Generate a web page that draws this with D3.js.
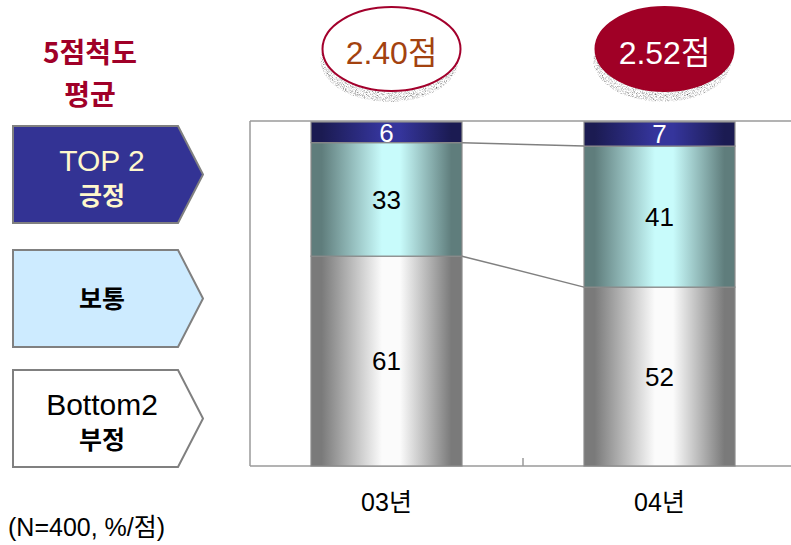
<!DOCTYPE html>
<html>
<head>
<meta charset="utf-8">
<script src="https://cdn.jsdelivr.net/npm/d3@7"></script>
<style>
  html, body { margin: 0; padding: 0; background: #fff; }
  svg { display: block; }
  text { font-family: "Liberation Sans", Arial, "Noto Sans CJK KR", sans-serif; }
  .ko { font-family: "Noto Sans CJK KR", "Liberation Sans", sans-serif; }
</style>
</head>
<body>
<svg id="chart" width="791" height="545"></svg>
<script>
// Survey results by year (5-point scale)
const years = ["03년", "04년"];
const top2 = [6, 7];          // TOP 2 긍정
const neutral = [33, 41];     // 보통
const bottom2 = [61, 52];     // Bottom2 부정
const means = [2.40, 2.52];   // 5점척도 평균
const meanSuffix = "점";
const legendLines = [["TOP 2", "긍정"], ["보통"], ["Bottom2", "부정"]];
const note = "(N=400, %/점)";

const W = 791, H = 545;
const svg = d3.select("#chart");
const defs = svg.append("defs");

// Horizontal cylinder-style gradients for each segment
function cylGradient(id, dark, light) {
  const g = defs.append("linearGradient").attr("id", id)
    .attr("x1", "0%").attr("x2", "100%").attr("y1", "0%").attr("y2", "0%");
  [[0, dark], [0.07, dark], [0.47, light], [0.59, light], [0.93, dark], [1, dark]]
    .forEach(([o, c]) => g.append("stop").attr("offset", o).attr("stop-color", c));
}
cylGradient("gTop", "#1b1b52", "#35359c");
cylGradient("gMid", "#5f7d7c", "#c8fbfb");
cylGradient("gBot", "#7a7a7a", "#fbfbfb");

// Grainy grey texture for the coin edges
const f = defs.append("filter").attr("id", "grain")
  .attr("x", "0%").attr("y", "0%").attr("width", "100%").attr("height", "100%");
f.append("feTurbulence").attr("type", "fractalNoise").attr("baseFrequency", 1.1)
  .attr("numOctaves", 2).attr("seed", 7).attr("result", "noise");
f.append("feColorMatrix").attr("in", "noise").attr("type", "matrix")
  .attr("values", "1.9 0 0 0 -0.12  1.9 0 0 0 -0.12  1.9 0 0 0 -0.12  0 0 0 0 1")
  .attr("result", "grey");
f.append("feComposite").attr("in", "grey").attr("in2", "SourceAlpha").attr("operator", "in");

// Scales
const x = d3.scaleBand().domain(years).range([250, 796])
  .paddingInner(0.447).paddingOuter(0.2235);
const y = d3.scaleLinear().domain([0, 100]).range([466, 122]);

// Plot frame
const axisColor = "#9a9a9a";
svg.append("line").attr("x1", 250).attr("x2", W + 10).attr("y1", 121).attr("y2", 121)
  .attr("stroke", axisColor).attr("stroke-width", 1.5);
svg.append("line").attr("x1", 250).attr("x2", 250).attr("y1", 121).attr("y2", y(0))
  .attr("stroke", axisColor).attr("stroke-width", 1.5);
svg.append("line").attr("x1", 250).attr("x2", W + 10).attr("y1", y(0)).attr("y2", y(0))
  .attr("stroke", axisColor).attr("stroke-width", 1.5);
// inner tick between categories
years.slice(1).forEach(d => {
  const bx = x(d) - x.step() * x.paddingInner() / 2;
  svg.append("line").attr("x1", bx).attr("x2", bx).attr("y1", y(0)).attr("y2", y(0) - 8)
    .attr("stroke", axisColor).attr("stroke-width", 1.5);
});

// Stacked data
const rows = years.map((yr, i) => ({ yr, bottom2: bottom2[i], neutral: neutral[i], top2: top2[i] }));
const keys = ["bottom2", "neutral", "top2"];
const fills = { bottom2: "url(#gBot)", neutral: "url(#gMid)", top2: "url(#gTop)" };
const labelColor = { bottom2: "#000", neutral: "#000", top2: "#fff" };
const stacked = d3.stack().keys(keys)(rows);

// Connector lines between stacked boundaries
const boundaries = [stacked[0], stacked[1]];
boundaries.forEach(layer => {
  for (let i = 0; i < years.length - 1; i++) {
    svg.append("line")
      .attr("x1", x(years[i]) + x.bandwidth()).attr("y1", y(layer[i][1]))
      .attr("x2", x(years[i + 1])).attr("y2", y(layer[i + 1][1]))
      .attr("stroke", "#808080").attr("stroke-width", 1.5);
  }
});

// Bars
stacked.forEach(layer => {
  const g = svg.append("g");
  g.selectAll("rect").data(layer).join("rect")
    .attr("x", d => x(d.data.yr))
    .attr("y", d => y(d[1]))
    .attr("width", x.bandwidth())
    .attr("height", d => y(d[0]) - y(d[1]))
    .attr("fill", fills[layer.key])
    .attr("stroke", "#8a8a8a").attr("stroke-width", 1.2);
  g.selectAll("text").data(layer).join("text")
    .attr("x", d => x(d.data.yr) + x.bandwidth() / 2)
    .attr("y", d => (y(d[0]) + y(d[1])) / 2)
    .attr("dy", "0.36em")
    .attr("text-anchor", "middle")
    .attr("font-size", 26)
    .attr("fill", labelColor[layer.key])
    .text(d => d.data[layer.key]);
});

// Category labels
svg.selectAll(".cat").data(years).join("text")
  .attr("class", "cat")
  .attr("x", d => x(d) + x.bandwidth() / 2)
  .attr("y", 511)
  .attr("text-anchor", "middle")
  .attr("font-size", 25)
  .attr("fill", "#000")
  .text(d => d);

// Mean score coins
const coinStyles = [
  { fill: "#ffffff", stroke: "#a3002c", text: "#a3420f" },
  { fill: "#a00026", stroke: "#a00026", text: "#ffffff" }
];
years.forEach((yr, i) => {
  const cx = x(yr) + x.bandwidth() / 2 + 5, cy = 49, rx = 69, ry = 42;
  svg.append("ellipse").attr("cx", cx - 2).attr("cy", cy + 11).attr("rx", rx).attr("ry", ry)
    .attr("fill", "#999").attr("filter", "url(#grain)");
  svg.append("ellipse").attr("cx", cx).attr("cy", cy).attr("rx", rx).attr("ry", ry)
    .attr("fill", coinStyles[i].fill).attr("stroke", coinStyles[i].stroke).attr("stroke-width", 2);
  svg.append("text").attr("x", cx).attr("y", cy + 3).attr("dy", "0.36em")
    .attr("text-anchor", "middle").attr("font-size", 32)
    .attr("fill", coinStyles[i].text)
    .text(means[i].toFixed(2) + meanSuffix);
});

// Title
const title = svg.append("text").attr("class", "ko").attr("text-anchor", "middle")
  .attr("fill", "#a00028").attr("font-weight", 700).attr("font-size", 28);
title.append("tspan").attr("x", 90).attr("y", 63).text("5점척도");
title.append("tspan").attr("x", 90).attr("y", 105).text("평균");

// Legend arrows
const legendBoxes = [
  { y0: 126, y1: 223, fill: "#333394", text: "#fff8cc" },
  { y0: 250, y1: 347, fill: "#cdebff", text: "#000" },
  { y0: 370, y1: 467, fill: "#ffffff", text: "#000" }
];
legendBoxes.forEach((b, i) => {
  const xl = 13, xn = 178, xt = 203, ym = (b.y0 + b.y1) / 2;
  svg.append("path")
    .attr("d", `M${xl},${b.y0}H${xn}L${xt},${ym}L${xn},${b.y1}H${xl}Z`)
    .attr("fill", b.fill).attr("stroke", "#808080").attr("stroke-width", 2);
  const lines = legendLines[i];
  const t = svg.append("text").attr("text-anchor", "middle").attr("fill", b.text);
  if (lines.length === 2) {
    t.append("tspan").attr("x", 102).attr("y", ym - 4).attr("font-size", 30).text(lines[0]);
    t.append("tspan").attr("class", "ko").attr("x", 102).attr("y", ym + 30)
      .attr("font-size", 25).attr("font-weight", 700).text(lines[1]);
  } else {
    t.append("tspan").attr("class", "ko").attr("x", 102).attr("y", ym + 9)
      .attr("font-size", 25).attr("font-weight", 700).text(lines[0]);
  }
});

// Footnote
svg.append("text").attr("x", 8).attr("y", 536).attr("font-size", 25).attr("fill", "#000")
  .text(note);
</script>
</body>
</html>
